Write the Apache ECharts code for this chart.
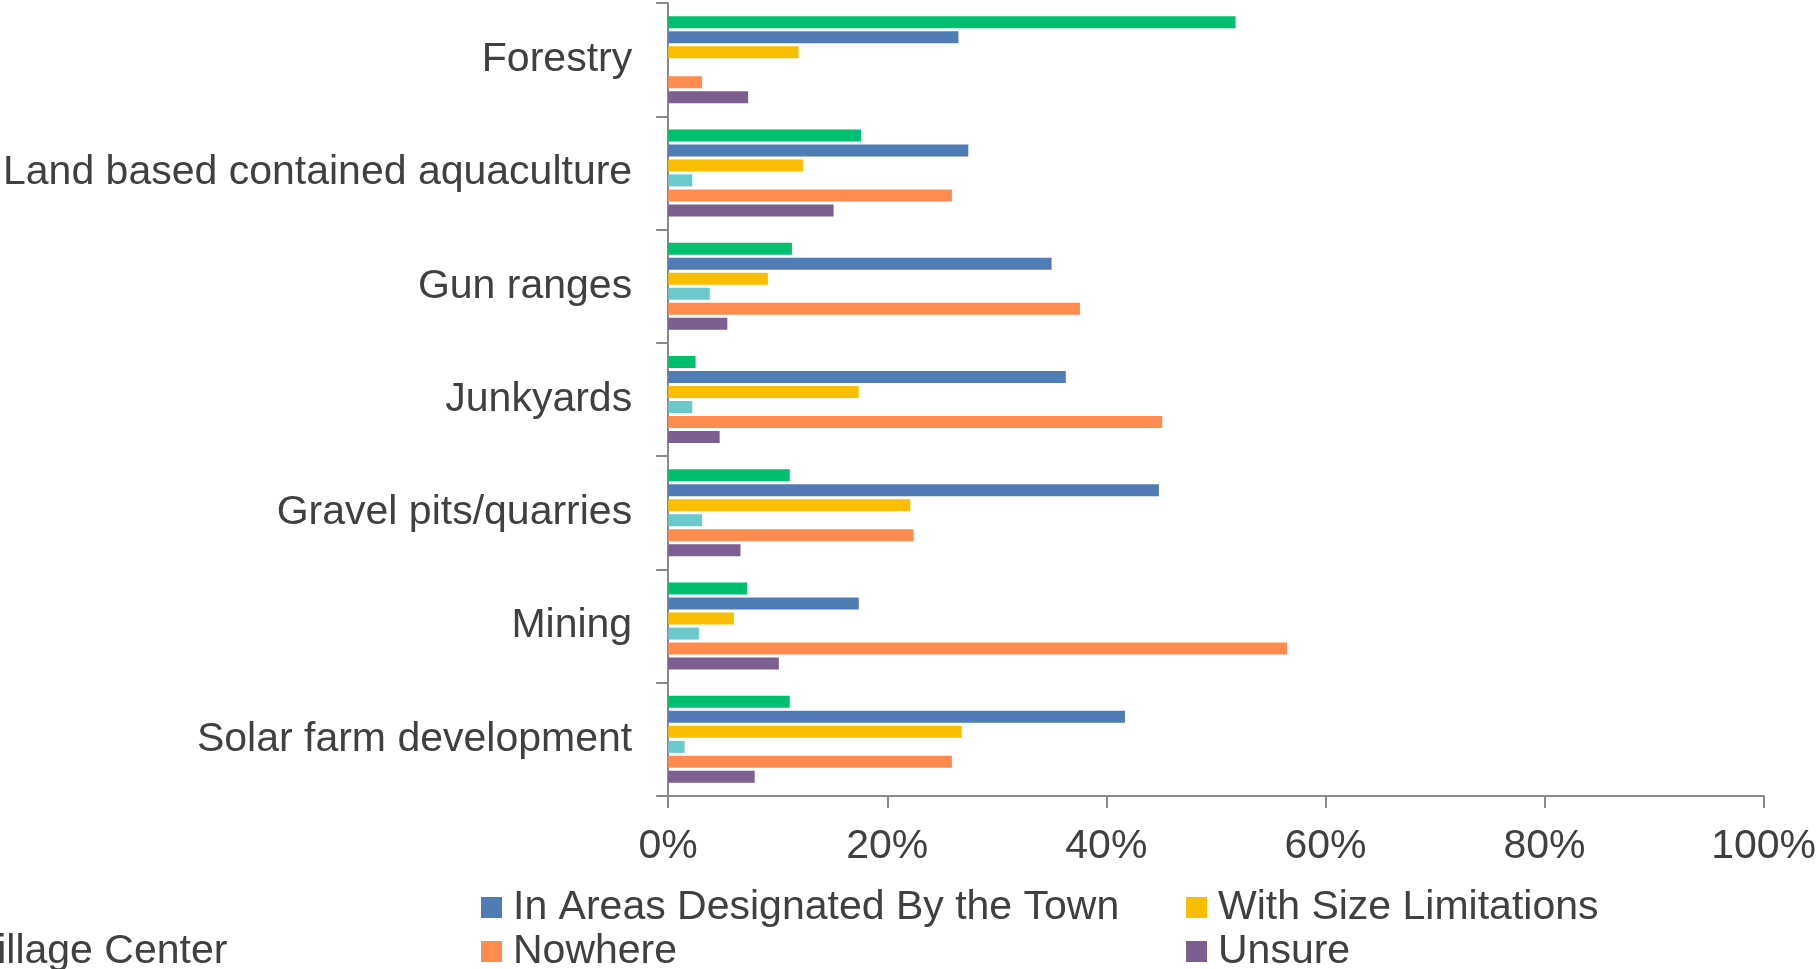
<!DOCTYPE html>
<html>
<head>
<meta charset="utf-8">
<script src="https://cdn.jsdelivr.net/npm/echarts@6/dist/echarts.min.js"></script>
<style>
html,body{margin:0;padding:0;background:#fff;}
#chart{width:1819px;height:969px;}
</style>
</head>
<body>
<div id="chart"></div>
<script>
const categories = ['Forestry', 'Land based contained aquaculture', 'Gun ranges', 'Junkyards', 'Gravel pits/quarries', 'Mining', 'Solar farm development'];
const seriesNames = ['Anywhere', 'In Areas Designated By the Town', 'With Size Limitations', 'In Village Center', 'Nowhere', 'Unsure'];
const seriesColors = ['#00BF6F', '#507CB6', '#F9BE00', '#6BC8CD', '#FF8B4F', '#7D5E90'];
const anywhere   = [51.8, 17.6, 11.3, 2.5, 11.1, 7.2, 11.1];
const designated = [26.5, 27.4, 35.0, 36.3, 44.8, 17.4, 41.7];
const sizeLimits = [11.9, 12.3, 9.1, 17.4, 22.1, 6.0, 26.8];
const village    = [0, 2.2, 3.8, 2.2, 3.1, 2.8, 1.5];
const nowhere    = [3.1, 25.9, 37.6, 45.1, 22.4, 56.5, 25.9];
const unsure     = [7.3, 15.1, 5.4, 4.7, 6.6, 10.1, 7.9];
const xTicks = [0, 20, 40, 60, 80, 100];

const seriesData = [anywhere, designated, sizeLimits, village, nowhere, unsure];
const FONT = '"Liberation Sans", Arial, sans-serif';
const TEXT = '#404040';
const AXIS = '#898989';

const chart = echarts.init(document.getElementById('chart'));

function legendAt(name, left, top) {
  return {
    data: [name], left: left, top: top, orient: 'horizontal', padding: 0,
    icon: 'rect', itemWidth: 21, itemHeight: 21, selectedMode: false,
    textStyle: { fontFamily: FONT, fontSize: 41, color: TEXT, padding: [0, 0, 0, 6] }
  };
}

const option = {
  backgroundColor: '#ffffff',
  animation: false,
  grid: { left: 668, right: 53, top: 3, bottom: 173, containLabel: false },
  legend: [
    legendAt(seriesNames[1], 481, 887),
    legendAt(seriesNames[2], 1186, 887),
    legendAt(seriesNames[3], -107, 931),
    legendAt(seriesNames[4], 481, 931),
    legendAt(seriesNames[5], 1186, 931)
  ],
  xAxis: {
    type: 'value', min: xTicks[0], max: xTicks[xTicks.length - 1], interval: 20,
    axisLine: { show: true, lineStyle: { color: AXIS, width: 2 } },
    axisTick: { show: true, length: 12, lineStyle: { color: AXIS, width: 2 } },
    splitLine: { show: false },
    axisLabel: { formatter: '{value}%', fontFamily: FONT, fontSize: 41, color: TEXT, margin: 30 }
  },
  yAxis: {
    type: 'category', data: categories, inverse: true,
    axisLine: { show: true, lineStyle: { color: AXIS, width: 2 } },
    axisTick: { show: true, length: 12, interval: 0, alignWithLabel: false, lineStyle: { color: AXIS, width: 2 } },
    axisLabel: { fontFamily: FONT, fontSize: 41, color: TEXT, margin: 36, interval: 0 }
  },
  series: seriesNames.map((n, i) => ({
    name: n, type: 'bar', data: seriesData[i], barWidth: 12, barGap: '25%',
    itemStyle: { color: seriesColors[i] }
  }))
};
chart.setOption(option);
</script>
</body>
</html>
